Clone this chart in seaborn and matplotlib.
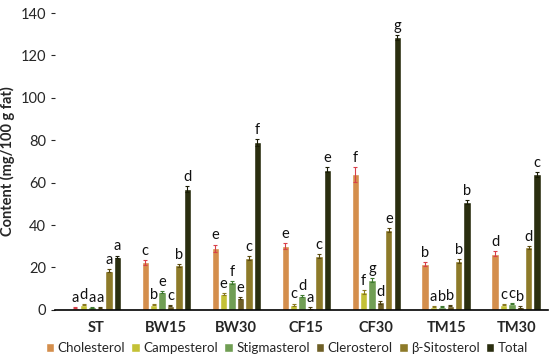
import matplotlib
matplotlib.use("Agg")
import matplotlib.pyplot as plt
import pandas as pd
import seaborn as sns

groups = ["ST", "BW15", "BW30", "CF15", "CF30", "TM15", "TM30"]
compounds = ["Cholesterol", "Campesterol", "Stigmasterol", "Clerosterol", "β-Sitosterol", "Total"]

cholesterol = [1.0, 22.5, 29.0, 30.0, 64.0, 21.5, 26.5]
campesterol = [2.5, 2.5, 7.5, 2.5, 8.5, 1.5, 2.5]
stigmasterol = [1.2, 8.5, 13.0, 6.5, 14.0, 1.5, 3.0]
clerosterol = [1.0, 2.0, 5.5, 1.0, 3.5, 2.0, 1.5]
sitosterol = [18.5, 21.0, 24.5, 25.5, 37.5, 23.0, 29.5]
total = [25.0, 57.0, 79.0, 66.0, 128.5, 51.0, 64.0]

err_chol = [0.3, 1.2, 1.8, 1.5, 3.5, 1.0, 1.2]
err_small = [0.3, 0.4, 0.6, 0.5, 0.8, 0.3, 0.4]
err_sito = [0.8, 0.8, 0.8, 0.8, 1.0, 0.8, 0.8]
err_total = [0.6, 1.2, 1.5, 1.2, 1.2, 0.9, 1.2]

letters = {
    "Cholesterol": ["a", "c", "e", "e", "f", "b", "d"],
    "Campesterol": ["d", "b", "e", "c", "f", "a", "c"],
    "Stigmasterol": ["a", "e", "f", "d", "g", "b", "c"],
    "Clerosterol": ["a", "c", "e", "a", "d", "b", "b"],
    "β-Sitosterol": ["a", "b", "c", "c", "e", "b", "d"],
    "Total": ["a", "d", "f", "e", "g", "b", "c"],
}

values = [cholesterol, campesterol, stigmasterol, clerosterol, sitosterol, total]
errors = [err_chol, err_small, err_small, err_small, err_sito, err_total]

rows = []
for comp, vals in zip(compounds, values):
    for g, v in zip(groups, vals):
        rows.append({"group": g, "compound": comp, "value": v})
df = pd.DataFrame(rows)

palette = ["#EB8D35", "#DCD81E", "#6DAA48", "#7A661A", "#9E8418", "#2E330A"]
err_colors = ["#D9404A", "#8A7A20", "#3F7A30", "#4A3E10", "#5A4A10", "#1A1C05"]

sns.set_style("white")
plt.rcParams["font.family"] = ["Lato", "DejaVu Sans"]

fig = plt.figure(figsize=(5.5, 3.62), dpi=100)
ax = fig.add_axes([0.1, 0.144, 0.897, 0.82])

sns.barplot(data=df, x="group", y="value", hue="compound", palette=palette,
            width=0.72, gap=0.12, ax=ax, legend=True, errorbar=None)

for cont, errs, ec, comp in zip(ax.containers, errors, err_colors, compounds):
    for bar, e, lab in zip(cont, errs, letters[comp]):
        xc = bar.get_x() + bar.get_width() / 2
        h = bar.get_height()
        ax.errorbar(xc, h, yerr=e, color=ec, capsize=1.5, elinewidth=0.8,
                    capthick=0.8, fmt="none")
        ax.text(xc, h + e + 1.0, lab, ha="center", va="bottom", fontsize=10.5,
                color="#111111")

ax.set_xlim(-0.59, 6.46)
ax.set_ylim(0, 140)
ax.set_yticks(range(0, 141, 20))
ax.set_ylabel("Content (mg/100 g fat)", fontsize=10.5, fontweight="bold")
ax.set_xlabel("")
ax.tick_params(axis="y", labelsize=10.5, length=3, left=True, width=0.8)
ax.tick_params(axis="x", labelsize=10.5, length=0, pad=8)
for t in ax.get_xticklabels():
    t.set_fontweight("bold")
sns.despine(ax=ax, top=True, right=True)
ax.spines["left"].set_visible(False)
ax.spines["bottom"].set_color("black")
ax.spines["bottom"].set_linewidth(1.2)

ax.legend(loc="center", bbox_to_anchor=(0.47, -0.13), ncol=6, frameon=False,
          fontsize=9.6, handlelength=0.65, handleheight=0.65, handletextpad=0.25,
          columnspacing=0.45, borderaxespad=0, borderpad=0)

fig.savefig("out.png", dpi=100)
